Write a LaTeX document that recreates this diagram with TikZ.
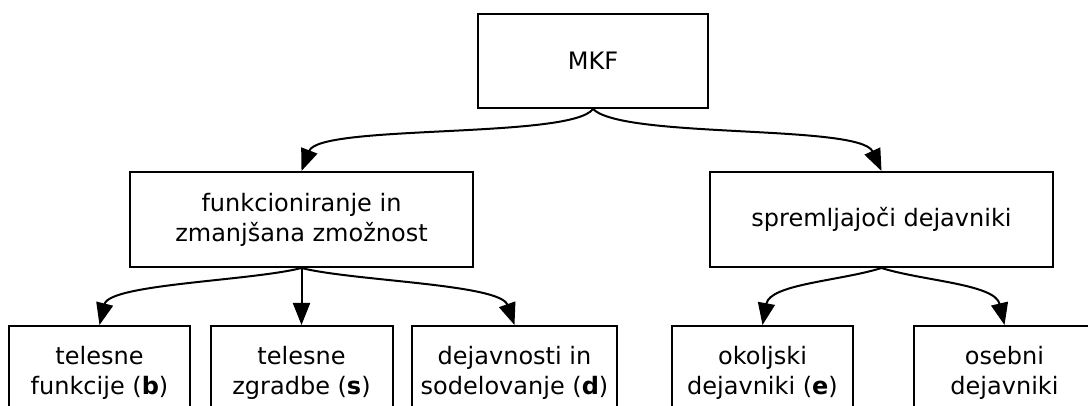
\documentclass[tikz,border=0pt]{standalone}
\usepackage{fontspec}
\setmainfont{DejaVu Sans}
\usetikzlibrary{arrows.meta}
\tikzset{
  box/.style={draw=black, line width=2pt, rectangle, align=center,
    inner sep=0pt, font=\fontsize{24}{30}\selectfont},
  arr/.style={draw=black, line width=2pt,
    -{Triangle[length=22pt,width=17pt]}}
}
\begin{document}
\begin{tikzpicture}[x=1pt,y=-1pt]
\useasboundingbox (0,0) rectangle (1088,406);
\clip (0,0) rectangle (1088,406);
% level 1
\node[box, minimum width=230pt, minimum height=94pt] (mkf) at (593,61) {MKF};
% level 2
\node[box, minimum width=343pt, minimum height=95pt] (funk) at (301.5,219.5)
  {funkcioniranje in\\zmanjšana zmožnost};
\node[box, minimum width=343pt, minimum height=95pt] (sprem) at (881.5,219.5)
  {spremljajoči dejavniki};
% level 3
\node[box, minimum width=181pt, minimum height=94pt] (b) at (99.5,373)
  {telesne\\funkcije (\textbf{b})};
\node[box, minimum width=182pt, minimum height=94pt] (s) at (301.5,373)
  {telesne\\zgradbe (\textbf{s})};
\node[box, minimum width=205pt, minimum height=94pt] (d) at (514.5,373)
  {dejavnosti in\\sodelovanje (\textbf{d})};
\node[box, minimum width=181pt, minimum height=94pt] (e) at (762.5,373)
  {okoljski\\dejavniki (\textbf{e})};
\node[box, minimum width=181pt, minimum height=94pt] (o) at (1004.5,373)
  {osebni\\dejavniki};
% connectors
\draw[arr] (mkf.south) .. controls +(-22,30) and +(18,-47) .. (funk.north);
\draw[arr] (mkf.south) .. controls +(30,30) and +(-21.5,-47) .. (sprem.north);
\draw[arr] (funk.south) .. controls +(-51.5,13) and +(10,-41) .. (b.north);
\draw[arr] (funk.south) -- (s.north);
\draw[arr] (funk.south) .. controls +(51.5,13) and +(-14.5,-41) .. (d.north);
\draw[arr] (sprem.south) .. controls +(-41.5,13) and +(7.5,-41) .. (e.north);
\draw[arr] (sprem.south) .. controls +(41.5,13) and +(-9.5,-41) .. (o.north);
\end{tikzpicture}
\end{document}
